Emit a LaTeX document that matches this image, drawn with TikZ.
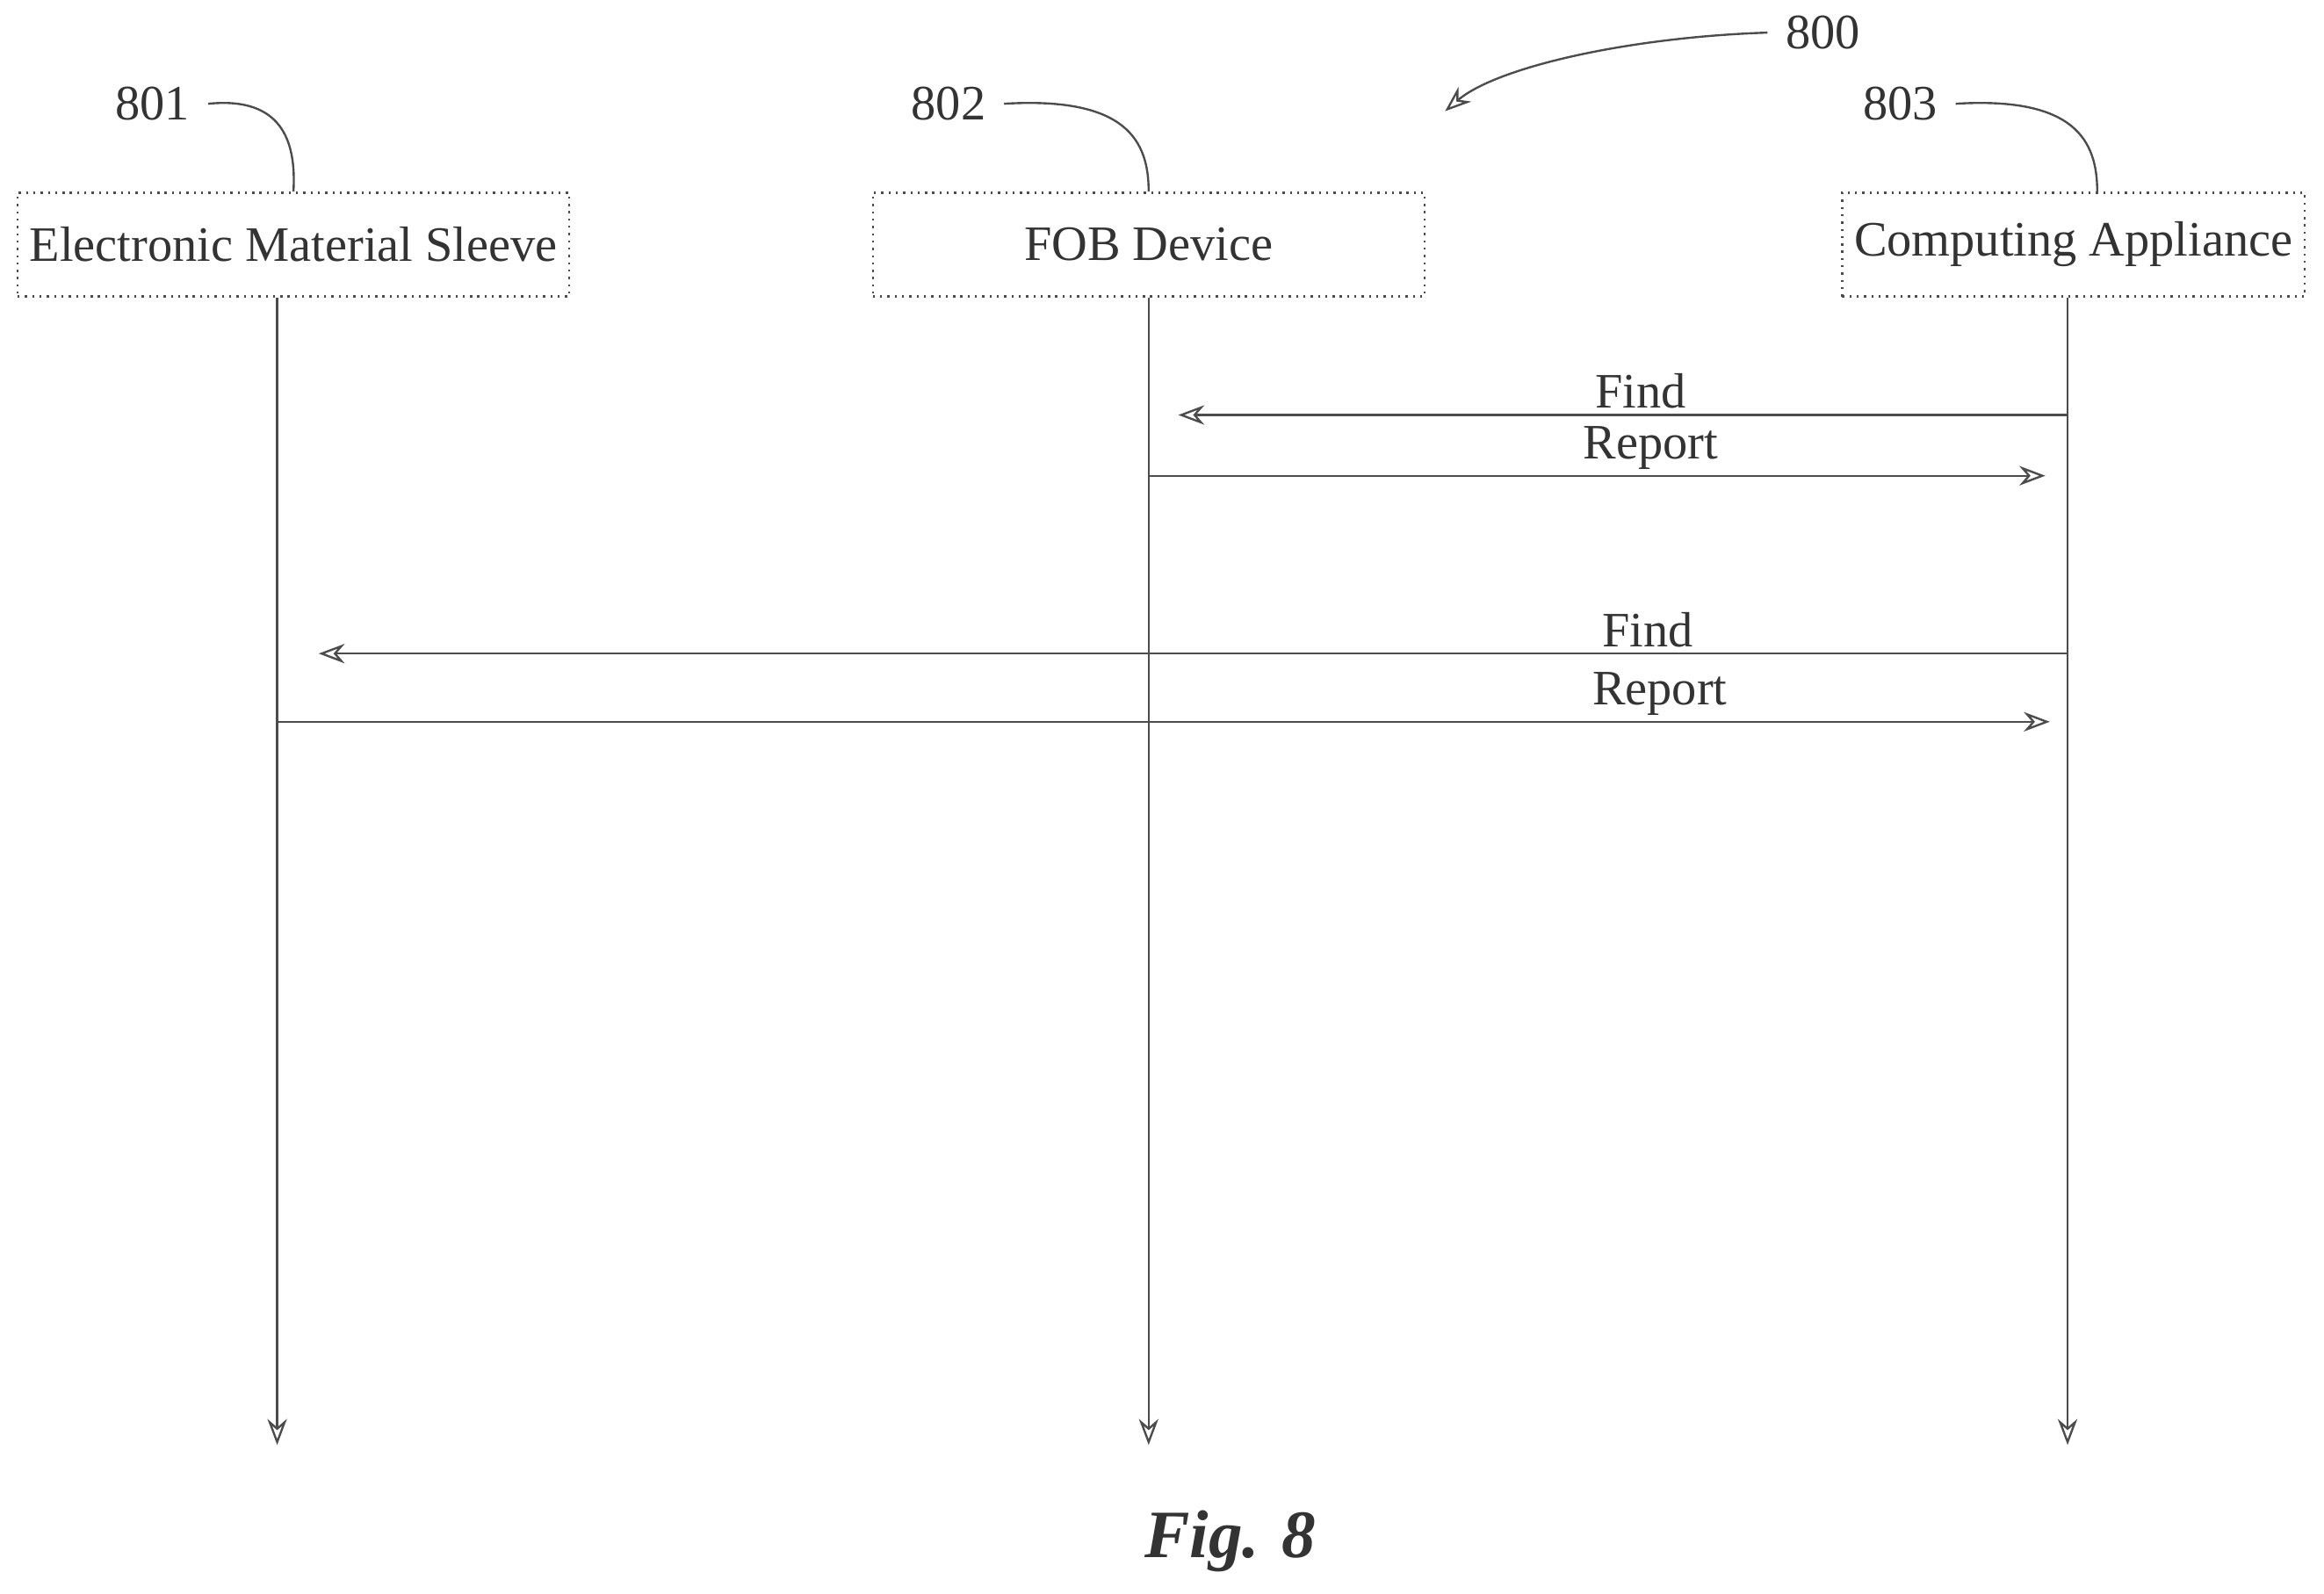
\documentclass[tikz,border=0pt]{standalone}
\usepackage{fontspec}
\setmainfont{Liberation Serif}
\usetikzlibrary{arrows.meta, positioning}
\begin{document}
\begin{tikzpicture}[
            x=0.01cm, y=-0.01cm,
            every node/.style={font=\fontsize{9.5}{11}\selectfont, text=black!80},
            box/.style={draw=black!70, thin, densely dotted, minimum height=0.7cm, inner sep=2pt},
            life/.style={-{Stealth[open, length=5pt]}, black!70, thin},
            msg/.style={-{Stealth[open, length=5pt]}, black!70, thin},
            lead/.style={black!70, thin},
            label/.style={above, inner sep=1pt}
        ]
            \useasboundingbox (0,0) rectangle (1568,1075);
            \node[box, minimum width=3.72cm] (sleeve) at (198,165) {Electronic Material Sleeve};
            \node[box, minimum width=3.72cm] (fob) at (775,165) {FOB Device};
            \node[box, minimum width=3.12cm] (app) at (1399,165) {Computing Appliance};

            \coordinate (sleeve_end) at (187,975);
            \coordinate (fob_end) at (775,975);
            \coordinate (app_end) at (1395,975);
            \draw[life] (sleeve.south -| sleeve_end) -- (sleeve_end);
            \draw[life] (fob.south) -- (fob_end);
            \draw[life] (app.south -| app_end) -- (app_end);

            \coordinate (find1_a) at (1395,280);
            \coordinate (find1_b) at (795,280);
            \coordinate (rep1_a) at (775,321);
            \coordinate (rep1_b) at (1380,321);
            \coordinate (find2_a) at (1395,441);
            \coordinate (find2_b) at (215,441);
            \coordinate (rep2_a) at (187,487);
            \coordinate (rep2_b) at (1383,487);
            \draw[msg] (find1_a) -- (find1_b) node[label, pos=0.48] {Find};
            \draw[msg] (rep1_a) -- (rep1_b) node[label, pos=0.56] {Report};
            \draw[msg] (find2_a) -- (find2_b) node[label, pos=0.24] {Find};
            \draw[msg] (rep2_a) -- (rep2_b) node[label, pos=0.78] {Report};

            \node (n801) at (103,70) {801};
            \node (n802) at (640,70) {802};
            \node (n803) at (1282,70) {803};
            \node (n800) at (1230,22) {800};
            \draw[lead] (n801.east) .. controls (190,65) and (200,95) .. (sleeve.north -| 198,0);
            \draw[lead] (n802.east) .. controls (760,65) and (775,95) .. (fob.north);
            \draw[lead] (n803.east) .. controls (1400,65) and (1415,95) .. (app.north -| 1415,0);
            \coordinate (fig_tip) at (975,75);
            \draw[msg] (n800.west) .. controls (1100,25) and (1010,45) .. (fig_tip);

            \node[font=\fontsize{13}{15}\selectfont\bfseries\itshape] (caption) at (830,1040) {Fig. 8};
        \end{tikzpicture}
\end{document}
